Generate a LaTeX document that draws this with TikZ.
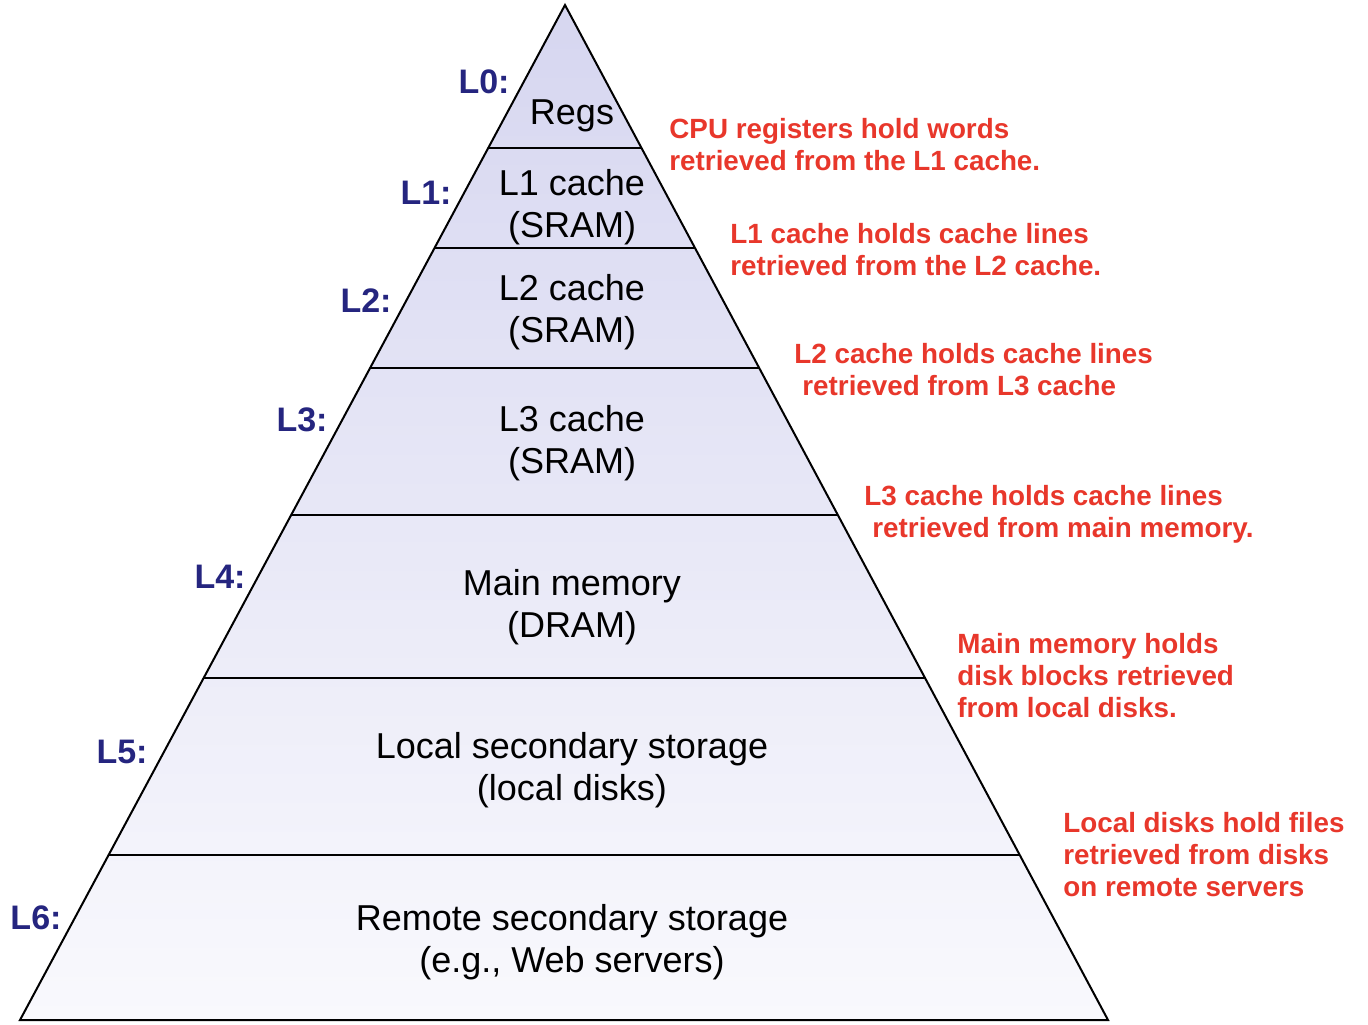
\documentclass[tikz,border=0pt]{standalone}
\usepackage{fontspec}
\setmainfont{Liberation Sans}
\usetikzlibrary{calc}
\definecolor{toplav}{HTML}{D6D6F0}
\definecolor{botlav}{HTML}{F9F9FD}
\definecolor{noteRed}{HTML}{E8372B}
\definecolor{levBlue}{HTML}{25257F}
\tikzset{
  tier/.style={align=center, font=\fontsize{18}{21}\selectfont},
  lev/.style={font=\fontsize{17}{20}\selectfont\bfseries, text=levBlue},
  note/.style={align=left, anchor=north west, inner sep=0pt,
    font=\fontsize{13.9}{16}\selectfont\bfseries, text=noteRed}
}

\begin{document}
\begin{tikzpicture}[x=0.5pt,y=-0.5pt]
\useasboundingbox (0,0) rectangle (1368,1024);
% corners of the pyramid
\coordinate (apex) at (565,5);
\coordinate (bl) at (20,1020);
\coordinate (br) at (1108,1020);
% fill the pyramid, light at the bottom
\shade[top color=toplav, bottom color=botlav] (apex)--(bl)--(br)--cycle;
\draw[line width=1pt, line join=miter] (apex)--(bl)--(br)--cycle;
% the level lines
\foreach \t in {0.1409,0.2394,0.3576,0.5025,0.6631,0.8374}
  \draw[line width=1pt] ($(apex)!\t!(bl)$)--($(apex)!\t!(br)$);

% what sits on each level
\node[tier] (regs) at (572,116) {Regs};
\node[tier] (lone) at (572,207) {L1 cache\\(SRAM)};
\node[tier] (ltwo) at (572,312) {L2 cache\\(SRAM)};
\node[tier] (lthree) at (572,443) {L3 cache\\(SRAM)};
\node[tier] (dram) at (572,607) {Main memory\\(DRAM)};
\node[tier] (disk) at (572,770) {Local secondary storage\\(local disks)};
\node[tier] (web) at (572,942) {Remote secondary storage\\(e.g., Web servers)};

% level names on the left
\node[lev] (lev0) at (484,82) {L0:};
\node[lev] (lev1) at (426,193) {L1:};
\node[lev] (lev2) at (366,301) {L2:};
\node[lev] (lev3) at (302,420) {L3:};
\node[lev] (lev4) at (220,577) {L4:};
\node[lev] (lev5) at (122,752) {L5:};
\node[lev] (lev6) at (36,918) {L6:};

% the notes on the right
\node[note] (note0) at (669,118) {CPU registers hold words\\retrieved from the L1 cache.};
\node[note] (note1) at (730,223) {L1 cache holds cache lines\\retrieved from the L2 cache.};
\node[note] (note2) at (794,343) {L2 cache holds cache lines\\\hspace{4pt}retrieved from L3 cache};
\node[note] (note3) at (864,485) {L3 cache holds cache lines\\\hspace{4pt}retrieved from main memory.};
\node[note] (note4) at (957,633) {Main memory holds\\disk blocks retrieved\\from local disks.};
\node[note] (note5) at (1063,812) {Local disks hold files\\retrieved from disks\\on remote servers};
\end{tikzpicture}
\end{document}
